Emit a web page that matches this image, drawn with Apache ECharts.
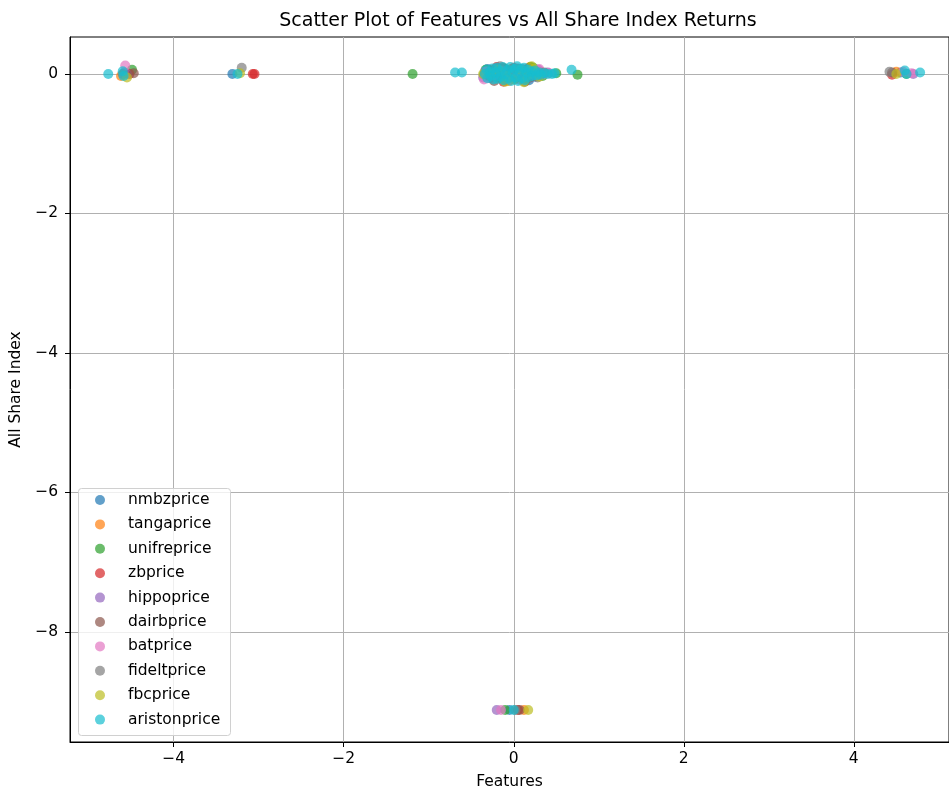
<!DOCTYPE html>
<html>
<head>
<meta charset="utf-8">
<script src="https://cdn.jsdelivr.net/npm/echarts@6/dist/echarts.min.js"></script>
<style>html,body{margin:0;padding:0;background:#fff}#c{width:949px;height:796px}</style>
</head>
<body>
<div id="c"></div>
<script>
var seriesNames = ['nmbzprice','tangaprice','unifreprice','zbprice','hippoprice','dairbprice','batprice','fideltprice','fbcprice','aristonprice'];
var colors = ['#1f77b4','#ff7f0e','#2ca02c','#d62728','#9467bd','#8c564b','#e377c2','#7f7f7f','#bcbd22','#17becf'];
var xTicks = [-4,-2,0,2,4];
var yTicks = [0,-2,-4,-6,-8];

var nmbzprice = [[-0.22,0.04],[-0.15,-0.02],[-0.08,0.06],[-0.02,0.01],[0.03,-0.05],[0.08,0.03],[0.14,-0.01],[0.2,0.05],[-0.27,0.0],[0.25,-0.04],[-0.12,-0.07],[0.05,0.08],[-0.31,0.07],[0.18,-0.09],[-3.31,0.0],[-4.58,0.02],[4.55,0.02],[-0.05,-9.12]];
var tangaprice = [[-0.25,0.03],[-0.18,-0.05],[-0.1,0.02],[-0.03,0.07],[0.02,-0.03],[0.09,0.05],[0.16,-0.06],[0.22,0.02],[-0.3,-0.02],[0.28,0.04],[0.11,0.0],[-0.06,-0.1],[0.19,0.1],[-4.62,-0.03],[4.5,0.03],[0.12,-9.12]];
var unifreprice = [[-0.3,0.05],[-0.2,-0.04],[-0.11,0.08],[-0.04,-0.02],[0.04,0.04],[0.12,-0.07],[0.2,0.1],[0.27,0.0],[0.34,-0.03],[0.5,0.01],[-0.35,-0.01],[-0.33,0.06],[0.23,0.09],[-1.19,0.0],[0.75,-0.01],[-4.49,0.06],[4.62,0.0],[-0.1,-9.12]];
var zbprice = [[-0.24,-0.03],[-0.16,0.07],[-0.07,-0.06],[0.0,0.09],[0.07,-0.02],[0.13,0.06],[0.19,-0.05],[0.26,0.03],[-0.33,0.02],[0.31,-0.01],[-0.2,0.1],[-0.12,-0.11],[-3.07,0.0],[-3.05,0.0],[4.45,-0.01],[-4.52,0.0],[0.05,-9.12]];
var hippoprice = [[-0.28,-0.06],[-0.19,0.01],[-0.09,-0.04],[-0.01,0.05],[0.06,-0.08],[0.15,0.02],[0.23,-0.02],[0.29,0.06],[-0.34,0.03],[0.1,0.07],[-0.36,-0.05],[0.4,0.02],[4.7,0.0],[-4.55,0.0],[-0.2,-9.12]];
var dairbprice = [[-0.26,0.06],[-0.17,-0.01],[-0.06,0.04],[0.01,-0.07],[0.1,0.01],[0.17,0.08],[0.24,-0.03],[-0.13,0.09],[0.33,0.02],[-0.23,-0.1],[0.13,-0.11],[-4.47,0.01],[4.45,0.02],[0.07,-9.12]];
var batprice = [[-0.23,-0.02],[-0.14,0.05],[-0.05,-0.08],[0.02,0.03],[0.09,-0.04],[0.18,0.04],[0.25,-0.02],[0.35,0.0],[0.42,0.01],[-0.32,0.04],[-0.35,-0.08],[0.3,0.07],[-4.57,0.12],[4.58,0.03],[4.68,0.01],[-0.15,-9.12]];
var fideltprice = [[-0.21,0.02],[-0.13,-0.06],[-0.04,0.03],[0.04,0.07],[0.11,-0.03],[0.19,0.01],[0.28,-0.05],[-0.29,-0.03],[0.36,0.02],[-0.16,0.11],[-3.2,0.09],[4.42,0.03],[-4.6,0.0],[0.02,-9.12]];
var fbcprice = [[-0.27,0.01],[-0.18,0.06],[-0.08,-0.03],[0.0,-0.08],[0.08,0.06],[0.16,-0.02],[0.23,0.07],[0.3,-0.04],[-0.36,0.0],[0.21,0.11],[0.12,-0.12],[-0.1,-0.11],[4.5,0.0],[-4.55,-0.05],[-3.22,0.01],[0.17,-9.12]];
var aristonprice = [[-0.34,0.0],[-0.32,0.06],[-0.31,-0.06],[-0.28,0.03],[-0.27,-0.03],[-0.25,0.08],[-0.24,-0.08],[-0.21,0.01],[-0.2,0.09],[-0.19,-0.07],[-0.16,0.04],[-0.15,-0.04],[-0.13,0.1],[-0.12,-0.09],[-0.1,0.0],[-0.07,0.06],[-0.06,-0.06],[-0.04,0.1],[-0.03,-0.1],[-0.01,0.02],[0.01,0.07],[0.02,-0.05],[0.04,0.11],[0.05,-0.1],[0.07,0.02],[0.09,0.07],[0.1,-0.06],[0.12,0.09],[0.13,-0.09],[0.15,0.02],[0.17,0.06],[0.18,-0.05],[0.21,0.03],[0.22,-0.03],[0.25,0.05],[0.27,-0.02],[0.3,0.02],[0.32,-0.01],[0.36,0.01],[0.4,0.0],[0.45,0.0],[0.48,0.01],[-0.69,0.02],[-0.61,0.02],[0.68,0.06],[-4.77,0.0],[-4.6,0.04],[-4.59,-0.03],[-3.25,0.0],[4.6,0.05],[4.62,0.0],[4.78,0.02],[0.0,-9.12]];

var allData = [nmbzprice,tangaprice,unifreprice,zbprice,hippoprice,dairbprice,batprice,fideltprice,fbcprice,aristonprice];
var FONT = 'DejaVu Sans';
var FS = 15.5;
function fmt(v){ return String(v).replace('-', '\u2212'); }

var chart = echarts.init(document.getElementById('c'), null, {renderer:'canvas'});
var option = {
  backgroundColor: '#fff',
  animation: false,
  title: {text: 'Scatter Plot of Features vs All Share Index Returns', left: 513, top: 7, textAlign: 'center',
    textStyle: {fontFamily: FONT, fontSize: 19, fontWeight: 'normal', color: '#000'}},
  grid: {left: 70, top: 37, right: 0, bottom: 54, show: true, borderColor: '#000', borderWidth: 1, containLabel: false},
  xAxis: {type: 'value', min: -5.22, max: 5.12,
    name: 'Features', nameLocation: 'middle', nameGap: 32,
    nameTextStyle: {fontFamily: FONT, fontSize: FS, color: '#000'},
    axisLine: {show: true, onZero: false, lineStyle: {color: '#000'}},
    axisTick: {show: true, length: 5, lineStyle: {color: '#000'}, customValues: xTicks},
    axisLabel: {fontFamily: FONT, fontSize: FS, color: '#000', margin: 9, customValues: xTicks, formatter: fmt},
    splitLine: {show: true, lineStyle: {color: '#b0b0b0', width: 1}}},
  yAxis: {type: 'value', min: -9.58, max: 0.53,
    name: 'All Share Index', nameLocation: 'middle', nameGap: 46,
    nameTextStyle: {fontFamily: FONT, fontSize: FS, color: '#000'},
    axisLine: {show: true, onZero: false, lineStyle: {color: '#000'}},
    axisTick: {show: true, length: 5, lineStyle: {color: '#000'}, customValues: yTicks},
    axisLabel: {fontFamily: FONT, fontSize: FS, color: '#000', margin: 12, customValues: yTicks, formatter: fmt},
    splitLine: {show: true, lineStyle: {color: '#b0b0b0', width: 1}}},
  legend: {orient: 'vertical', left: 95, top: 492, padding: 0, itemGap: 8.4,
    itemWidth: 46, itemHeight: 10, icon: 'circle',
    textStyle: {fontFamily: FONT, fontSize: FS, color: '#000', lineHeight: 16},
    data: seriesNames, z: 10},
  graphic: [{type: 'rect', left: 78, top: 488, z: 5, silent: true,
    shape: {width: 152, height: 247, r: 3},
    style: {fill: 'rgba(255,255,255,0.8)', stroke: '#d0d0d0', lineWidth: 1}}],
  series: seriesNames.map(function(n, i){
    return {name: n, type: 'scatter', data: allData[i], symbolSize: 10,
      itemStyle: {color: colors[i], opacity: 0.7}};
  })
};
chart.setOption(option);
</script>
</body>
</html>
